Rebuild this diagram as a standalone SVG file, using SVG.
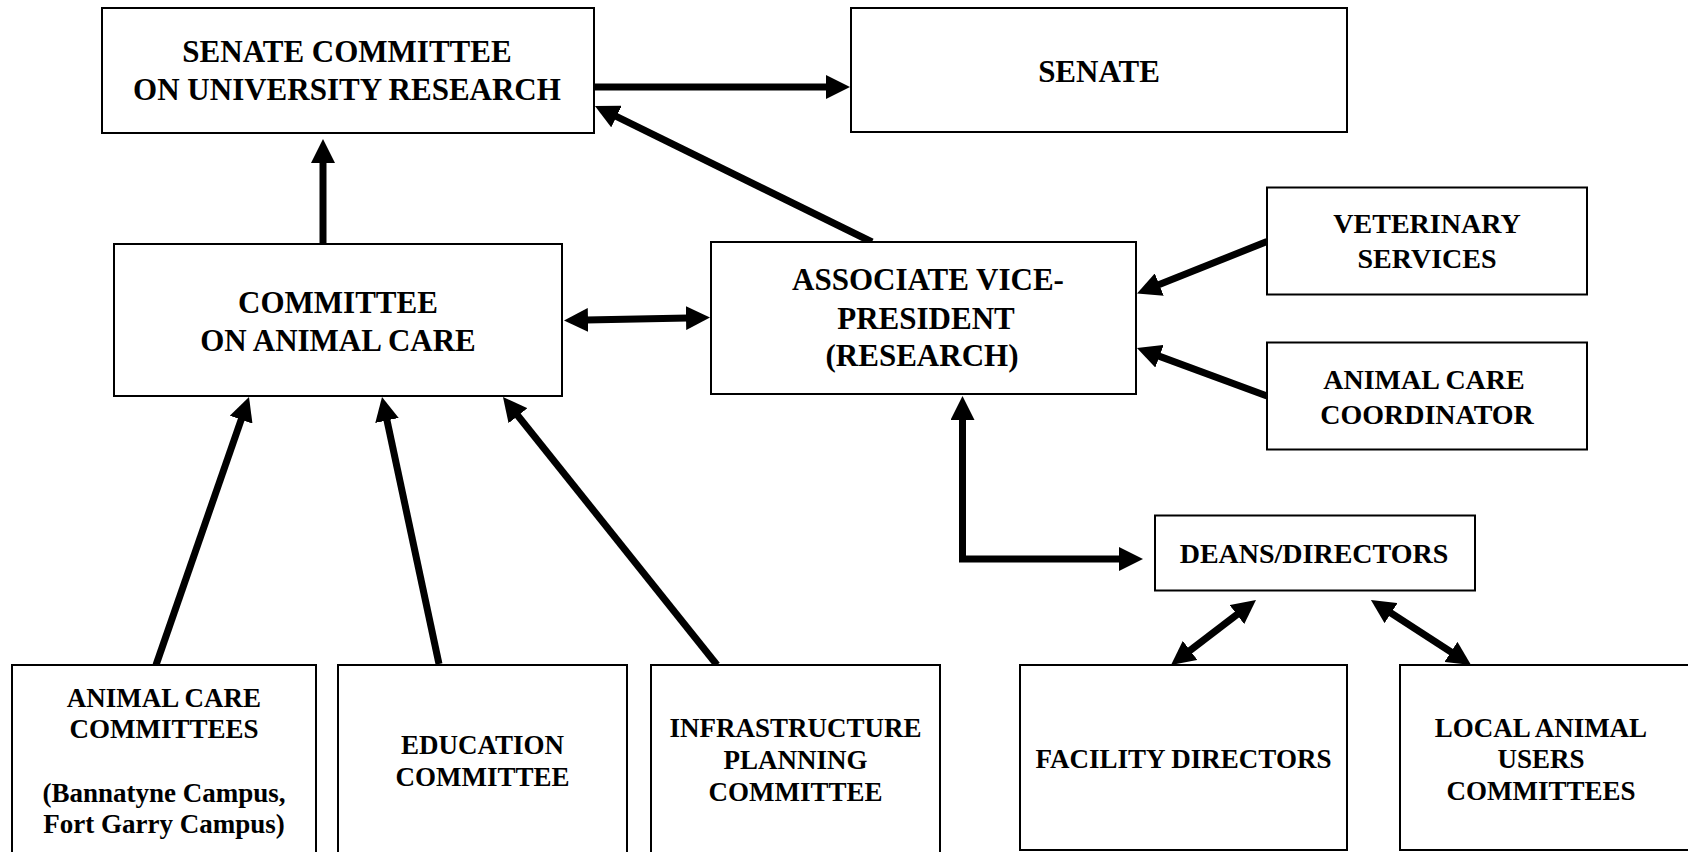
<svg xmlns="http://www.w3.org/2000/svg" width="1688" height="852" viewBox="0 0 1688 852">
<defs>
<style>
.box{fill:#fff;stroke:#000;stroke-width:2}
.t{font-family:"Liberation Serif","Times New Roman",serif;font-weight:bold;fill:#000;text-anchor:middle}
.t31{font-size:31px}
.t28{font-size:28px}
.t27{font-size:27px}
.c{fill:none;stroke:#000;stroke-width:7;stroke-linejoin:miter}
</style>
<marker id="ah" markerUnits="userSpaceOnUse" markerWidth="24" markerHeight="24" viewBox="0 0 24 24" refX="2" refY="12" orient="auto-start-reverse">
<path d="M0,0 L24,12 L0,24 z" fill="#000"/>
</marker>
</defs>
<rect width="1688" height="852" fill="#fff"/>
<g id="connectors">
<line class="c" x1="594" y1="87" x2="828" y2="87" marker-end="url(#ah)"/>
<line class="c" x1="323" y1="243" x2="323" y2="161" marker-end="url(#ah)"/>
<line class="c" x1="872" y1="242" x2="614.7" y2="115.7" marker-end="url(#ah)"/>
<line class="c" x1="586" y1="320" x2="688" y2="318" marker-start="url(#ah)" marker-end="url(#ah)"/>
<line class="c" x1="1267" y1="241.5" x2="1157.4" y2="285.3" marker-end="url(#ah)"/>
<line class="c" x1="1267" y1="396" x2="1157.6" y2="355.6" marker-end="url(#ah)"/>
<path class="c" d="M962.5,418 V559 H1121" marker-start="url(#ah)" marker-end="url(#ah)"/>
<line class="c" x1="1188.5" y1="651.6" x2="1238.5" y2="613.4" marker-start="url(#ah)" marker-end="url(#ah)"/>
<line class="c" x1="1389.4" y1="612" x2="1452.6" y2="653" marker-start="url(#ah)" marker-end="url(#ah)"/>
<line class="c" x1="156" y1="665" x2="241.8" y2="417.8" marker-end="url(#ah)"/>
<line class="c" x1="439" y1="664" x2="386.6" y2="418.5" marker-end="url(#ah)"/>
<line class="c" x1="717" y1="665" x2="516.7" y2="414.2" marker-end="url(#ah)"/>
</g>
<g id="senate-committee">
<rect class="box" x="102" y="8" width="492" height="125"/>
<text class="t t31" x="347" y="62">SENATE COMMITTEE</text>
<text class="t t31" x="347" y="100">ON UNIVERSITY RESEARCH</text>
</g>
<g id="senate">
<rect class="box" x="851" y="8" width="496" height="124"/>
<text class="t t31" x="1099" y="82">SENATE</text>
</g>
<g id="committee-animal-care">
<rect class="box" x="114" y="244" width="448" height="152"/>
<text class="t t31" x="338" y="313">COMMITTEE</text>
<text class="t t31" x="338" y="351">ON ANIMAL CARE</text>
</g>
<g id="avp">
<rect class="box" x="711" y="242" width="425" height="152"/>
<text class="t t31" x="928" y="290">ASSOCIATE VICE-</text>
<text class="t t31" x="926" y="329">PRESIDENT</text>
<text class="t t31" x="922" y="366">(RESEARCH)</text>
</g>
<g id="veterinary-services">
<rect class="box" x="1267" y="187.5" width="320" height="107"/>
<text class="t t28" x="1427" y="233">VETERINARY</text>
<text class="t t28" x="1427" y="268">SERVICES</text>
</g>
<g id="animal-care-coordinator">
<rect class="box" x="1267" y="342.5" width="320" height="107"/>
<text class="t t28" x="1424" y="389">ANIMAL CARE</text>
<text class="t t28" x="1427" y="424">COORDINATOR</text>
</g>
<g id="deans-directors">
<rect class="box" x="1155" y="515.5" width="320" height="75"/>
<text class="t t28" x="1314" y="563">DEANS/DIRECTORS</text>
</g>
<g id="animal-care-committees">
<rect class="box" x="12" y="665" width="304" height="200"/>
<text class="t t27" x="164" y="707">ANIMAL CARE</text>
<text class="t t27" x="164" y="738">COMMITTEES</text>
<text class="t t27" x="164" y="802">(Bannatyne Campus,</text>
<text class="t t27" x="164" y="833">Fort Garry Campus)</text>
</g>
<g id="education-committee">
<rect class="box" x="338" y="665" width="289" height="200"/>
<text class="t t27" x="482.5" y="754">EDUCATION</text>
<text class="t t27" x="482.5" y="786">COMMITTEE</text>
</g>
<g id="infrastructure-planning">
<rect class="box" x="651" y="665" width="289" height="200"/>
<text class="t t27" x="795.5" y="737">INFRASTRUCTURE</text>
<text class="t t27" x="795.5" y="769">PLANNING</text>
<text class="t t27" x="795.5" y="801">COMMITTEE</text>
</g>
<g id="facility-directors">
<rect class="box" x="1020" y="665" width="327" height="185"/>
<text class="t t27" x="1183.5" y="768">FACILITY DIRECTORS</text>
</g>
<g id="local-animal-users">
<rect class="box" x="1400" y="665" width="300" height="185"/>
<text class="t t27" x="1541" y="737">LOCAL ANIMAL</text>
<text class="t t27" x="1541" y="768">USERS</text>
<text class="t t27" x="1541" y="800">COMMITTEES</text>
</g>
</svg>
